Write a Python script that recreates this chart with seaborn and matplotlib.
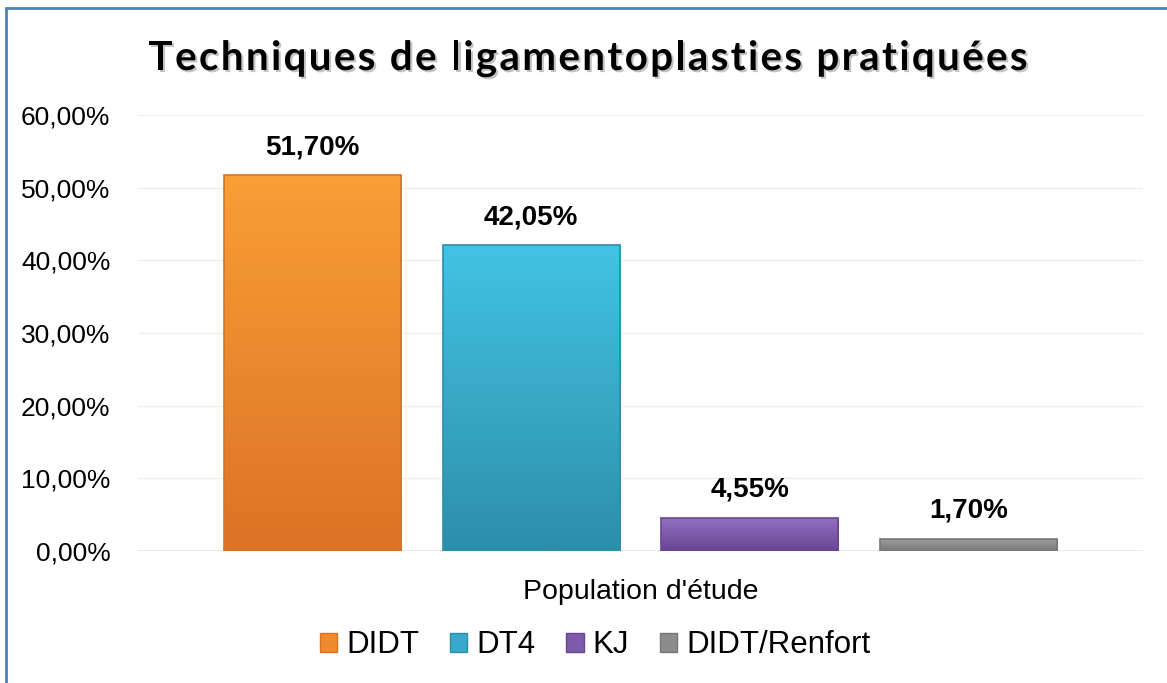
import numpy as np
import pandas as pd
import matplotlib
matplotlib.use("Agg")
import matplotlib.pyplot as plt
import matplotlib.patheffects as pe
from matplotlib.patches import Rectangle
from matplotlib.colors import LinearSegmentedColormap
import seaborn as sns

# --- data
techniques = ["DIDT", "DT4", "KJ", "DIDT/Renfort"]
percentages = [51.70, 42.05, 4.55, 1.70]
group_label = "Population d'étude"
title = "Techniques de ligamentoplasties pratiquées"
top_colors = ["#FA9E35", "#42C3E3", "#9470C2", "#A0A0A0"]
bottom_colors = ["#DA7326", "#2D8EAA", "#684594", "#777777"]
mid_colors = ["#F08A2E", "#37AACB", "#7E5AAD", "#8C8C8C"]

df = pd.DataFrame({
    "groupe": [group_label] * len(techniques),
    "technique": techniques,
    "valeur": [p / 100 for p in percentages],
})

sns.set_theme(style="white", rc={"text.color": "black", "xtick.color": "black",
                                 "ytick.color": "black", "axes.labelcolor": "black"})
plt.rcParams["font.family"] = ["Liberation Sans", "DejaVu Sans"]

fig = plt.figure(figsize=(11.67, 6.83), dpi=100)
ax = fig.add_axes([0.1183, 0.1933, 0.8611, 0.6383])

sns.barplot(data=df, x="groupe", y="valeur", hue="technique",
            hue_order=techniques, palette=mid_colors, width=0.87, gap=0.19,
            saturation=1, legend=False, ax=ax, zorder=3)

ax.set_ylim(0, 0.6)
ax.set_xlim(-0.5, 0.5)
ax.set_yticks(np.arange(0, 0.61, 0.1))
ax.set_yticklabels([f"{v:.2f}%".replace(".", ",") for v in np.arange(0, 61, 10)],
                   fontsize=19)
ax.tick_params(axis="y", length=0, pad=20)
ax.tick_params(axis="x", length=0, pad=20)
ax.set_xticks([0])
ax.set_xticklabels([group_label], fontsize=20.5)
ax.set_xlabel("")
ax.set_ylabel("")
ax.grid(axis="y", color="#EFEFEF", linewidth=1, zorder=0)
for s in ax.spines.values():
    s.set_visible(False)
ax.axhline(0, color="#E6E6E6", linewidth=1.2, zorder=1)

# gradient fill + value labels on each bar
grad = np.linspace(0, 1, 256).reshape(-1, 1)
for bar, top, bot, val in zip(ax.patches, top_colors, bottom_colors, percentages):
    x0, w, h = bar.get_x(), bar.get_width(), bar.get_height()
    cmap = LinearSegmentedColormap.from_list("g", [bot, top])
    im = ax.imshow(grad, cmap=cmap, aspect="auto", origin="lower",
                   extent=[x0, x0 + w, 0, h], zorder=4)
    im.set_clip_path(bar)
    ax.add_patch(Rectangle((x0, 0), w, h, fill=False, edgecolor=bot,
                           linewidth=1.2, zorder=5))
    ax.text(x0 + w / 2, h + 0.021, f"{val:.2f}%".replace(".", ","),
            ha="center", va="bottom", fontsize=20, fontweight="bold", zorder=6)
ax.set_xlim(-0.5, 0.5)
ax.set_ylim(0, 0.6)

# legend
handles = [Rectangle((0, 0), 1, 1, facecolor=m, edgecolor=b)
           for m, b in zip(mid_colors, bottom_colors)]
fig.legend(handles, techniques, loc="center", bbox_to_anchor=(0.51, 0.055),
           ncol=4, frameon=False, fontsize=22.5, handlelength=0.55,
           handleheight=0.55, handletextpad=0.28, columnspacing=1.0)

# title with letter spacing (drawn char by char)
renderer = fig.canvas.get_renderer()
tfont = dict(fontsize=29, fontweight="bold", family=["Lato", "DejaVu Sans"])
shadow = [pe.withSimplePatchShadow(offset=(1.5, -1.5), shadow_rgbFace="#888888", alpha=0.5)]


def text_width(s):
    t = fig.text(0, 0, s + "|", **tfont)
    w = t.get_window_extent(renderer).width
    t.remove()
    return w


bar_w = text_width("")
advances = [text_width(title[:i]) - bar_w for i in range(len(title) + 1)]
target_w = 879
spacing = max(0.0, (target_w - advances[-1]) / (len(title) - 1))
total = advances[-1] + spacing * (len(title) - 1)
x_start = 588 - total / 2
for i, ch in enumerate(title):
    if ch == " ":
        continue
    px = x_start + advances[i] + spacing * i
    fig.text(px / 1167, 1 - 70 / 683, ch, ha="left", va="baseline",
             path_effects=shadow, **tfont)

# frame
fig.add_artist(plt.Line2D([6 / 1167, 6 / 1167], [0, 1 - 8 / 683],
                          transform=fig.transFigure, color="#4F81BD", linewidth=2))
fig.add_artist(plt.Line2D([6 / 1167, 1], [1 - 8 / 683, 1 - 8 / 683],
                          transform=fig.transFigure, color="#4F81BD", linewidth=2))

fig.savefig("out.png", dpi=100)
